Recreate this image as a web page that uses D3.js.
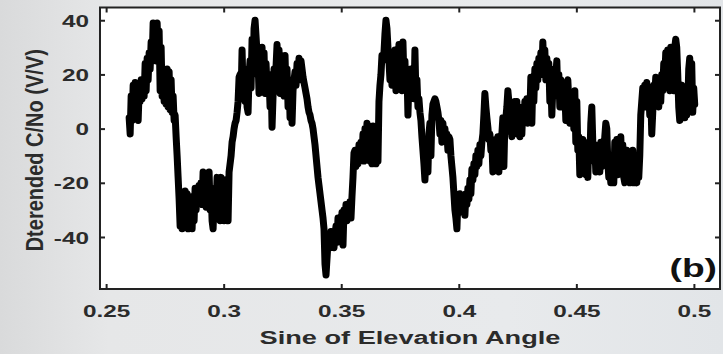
<!DOCTYPE html>
<html><head><meta charset="utf-8">
<script src="https://cdn.jsdelivr.net/npm/d3@7"></script>
<style>html,body{margin:0;padding:0;background:#e4e6e8;}svg{display:block;}</style>
</head><body>
<script>
// sampled signal: sine of elevation starts at xStart, one sample per xStep
const xStart = 0.2598;
const xStep = 0.000425;
const cn0Values = [
4,-2,12,3,16,5,17,8,15,3,14,10,18,11,17,12,24,14,26,18,28,22,32,25,39,26,38,25,39,28,
36,14,30,12,22,10,20,9,22,8,21,7,18,6,12,3,5,-3,-10,-18,-26,-36,-30,-37,-25,-36,-23,-35,-24,-37,
-27,-36,-30,-37,-25,-34,-22,-30,-24,-28,-21,-27,-20,-28,-16,-26,-18,-29,-20,-28,-16,-30,-22,-34,-37,-26,-22,-28,-18,-33,
-19,-34,-18,-33,-22,-34,-19,-33,-26,-34,-16,-13,-10,-5,-3,0,2,3,6,10,19,20,12,29,14,22,10,20,8,6,
20,25,15,33,20,37,40,34,28,25,13,22,14,30,18,28,13,24,15,13,18,8,20,0.5,12,22,14,23,31,20,
29,13,27,15,24,12,27,13,22,8,18,4,15,2,14,18,21,16,24,18,26,18,25,22,19,17,15,13,11,8,
6,5,3,2,0,-3,-6,-10,-14,-18,-21,-24,-27,-30,-33,-37,-50,-54,-48,-42,-40,-44,-38,-42,-38,-44,-39,-36,-42,-33,
-37,-33,-36,-31,-43,-30,-34,-28,-34,-29,-32,-27,-33,-25,-18,-9,-8,-14,-10,-13,-6,-12,-5,-11,-2,-12,0,-5,2,-10,
1,-12,-2,-13,1,-12,-2,-13,0,-12,10,16,20,27,25,28,35,40,37,30,25,18,28,16,25,20,29,14,24,15,
31,20,26,14,32,18,25,14,22,5,18,11,22,12,18,11,29,12,18,8,11,6,3,-3,-8,-13,-19,-10,-4,-16,
-2,2,-10,5,9,10,11,10,8,6,3,-2,3,-5,2,-4,0,-4,-2,-8,-3,-4,-10,-14,-18,-24,-30,-33,-37,-26,
-30,-24,-29,-25,-31,-25,-32,-24,-28,-22,-26,-19,-24,-15,-19,-13,-17,-10,-14,-8,-13,-6,-10,-5,-2,5,13,8,4,0.5,
-4,-2,-8,-5,-16,-8,-14,-4,-15,-3,-16,-8,-12,-2,4,-14,2,4,8,14,10,-1,7,-3,8,0,10,2,10,-2,
8,-3,6,-2,8,2,10,3,11,2,10,5,19,2,18,10,22,15,24,18,26,20,28,20,32,22,29,18,26,20,
24,10,18,5,15,14,22,20,25,12,20,8,18,8,15,10,14,3,17,18,10,2,12,2,13,0,14,-5,10,-8,
-3,-17,-5,-12,-4,-15,-8,-17,-14,-18,-5,-12,2,8,-5,-12,-6,-16,-10,-15,-8,-16,-5,-14,-8,-10,-3,2,0,-12,
-18,-15,-20,-17,-12,-20,-5,-12,-4,-17,-5,-12,-3,-14,-6,-18,-20,-15,-8,-18,-9,-20,-9,-18,-8,-20,-12,-19,-20,-10,
-18,-10,5,10,15,9,16,8,17,11,15,5,13,-2,6,16,12,19,10,17,8,15,10,20,14,24,18,28,22,29,
25,14,30,20,28,14,30,33,30,20,8,3,12,16,5,14,4,15,5,8,22,26,10,24,6,15,9
];
const xTicks = [0.25, 0.3, 0.35, 0.4, 0.45, 0.5];
const xTickLabels = ["0.25", "0.3", "0.35", "0.4", "0.45", "0.5"];
const yTicks = [-40, -20, 0, 20, 40];
const yTickLabels = ["-40", "-20", "0", "20", "40"];
const xTitle = "Sine of Elevation Angle";
const yTitle = "Dterended C/No (V/V)";
const panelLabel = "(b)";

const W = 723, H = 354;
const plot = {left: 100, right: 720, top: 7.5, bottom: 289};
const stretch = 1.43;   // the figure's text is widened horizontally

const svg = d3.select("body").append("svg").attr("width", W).attr("height", H);
const defs = svg.append("defs");
const g1 = defs.append("linearGradient").attr("id", "bg").attr("x1", 0).attr("x2", 1).attr("y1", 0).attr("y2", 0);
g1.append("stop").attr("offset", "0%").attr("stop-color", "#d9dadb");
g1.append("stop").attr("offset", "15%").attr("stop-color", "#e6e7e8");
g1.append("stop").attr("offset", "70%").attr("stop-color", "#e8eaec");
g1.append("stop").attr("offset", "100%").attr("stop-color", "#e2e5e8");
svg.append("rect").attr("width", W).attr("height", H).attr("fill", "url(#bg)");

const x = d3.scaleLinear().domain([0.2474, 0.5111]).range([plot.left, plot.right]);
const y = d3.scaleLinear().domain([-59.2, 44.7]).range([plot.bottom, plot.top]);

svg.append("rect").attr("x", plot.left).attr("y", plot.top)
  .attr("width", plot.right - plot.left).attr("height", plot.bottom - plot.top)
  .attr("fill", "#ffffff");

const data = cn0Values.map((v, i) => ({x: xStart + i * xStep, y: v}));

const clip = defs.append("clipPath").attr("id", "clip");
clip.append("rect").attr("x", plot.left).attr("y", plot.top)
  .attr("width", plot.right - plot.left).attr("height", plot.bottom - plot.top);

svg.append("path").datum(data)
  .attr("clip-path", "url(#clip)")
  .attr("fill", "none").attr("stroke", "#000").attr("stroke-width", 7)
  .attr("stroke-linejoin", "round").attr("stroke-linecap", "round")
  .attr("d", d3.line().x(d => x(d.x)).y(d => y(d.y)));

const font = "'Liberation Sans', Arial, sans-serif";
const tickLen = 5;
const txtColor = "#2b2b2b";

// axes (inward ticks on all four sides)
const axB = svg.append("g").attr("transform", `translate(0,${plot.bottom})`)
  .call(d3.axisBottom(x).tickValues(xTicks).tickSize(-tickLen)
    .tickFormat((d, i) => xTickLabels[i]));
const axT = svg.append("g").attr("transform", `translate(0,${plot.top})`)
  .call(d3.axisTop(x).tickValues(xTicks).tickSize(-tickLen).tickFormat(""));
const axL = svg.append("g").attr("transform", `translate(${plot.left},0)`)
  .call(d3.axisLeft(y).tickValues(yTicks).tickSize(-tickLen)
    .tickFormat((d, i) => yTickLabels[i]));
const axR = svg.append("g").attr("transform", `translate(${plot.right},0)`)
  .call(d3.axisRight(y).tickValues(yTicks).tickSize(-tickLen).tickFormat(""));

[axB, axT, axL, axR].forEach(a => {
  a.select(".domain").remove();
  a.selectAll(".tick line").attr("stroke", "#222").attr("stroke-width", 2);
  a.selectAll(".tick text").attr("fill", txtColor).attr("font-family", font)
    .attr("font-weight", "bold").attr("font-size", 17);
});
axB.selectAll(".tick text").attr("x", null).attr("y", null).attr("dy", null)
  .attr("transform", `translate(0,28) scale(${stretch},1)`);
axL.selectAll(".tick text").attr("x", null).attr("dy", "0.36em")
  .attr("transform", `translate(-11,0) scale(${stretch},1)`);

// frame
svg.append("rect").attr("x", plot.left).attr("y", plot.top)
  .attr("width", plot.right - plot.left).attr("height", plot.bottom - plot.top)
  .attr("fill", "none").attr("stroke", "#222").attr("stroke-width", 2);

svg.append("text").attr("transform", `translate(${(plot.left + plot.right) / 2},344) scale(${stretch},1)`)
  .attr("text-anchor", "middle").attr("font-family", font).attr("font-weight", "bold")
  .attr("font-size", 19).attr("fill", txtColor).text(xTitle);

svg.append("text").attr("transform", `translate(43,${(plot.top + plot.bottom) / 2 + 2}) rotate(-90) scale(1,1.2)`)
  .attr("text-anchor", "middle").attr("font-family", font).attr("font-weight", "bold")
  .attr("font-size", 20).attr("fill", txtColor).text(yTitle);

svg.append("text").attr("transform", `translate(717,277) scale(${stretch},1)`)
  .attr("text-anchor", "end").attr("font-family", font).attr("font-weight", "bold")
  .attr("font-size", 26).attr("fill", "#111").text(panelLabel);
</script>
</body></html>
